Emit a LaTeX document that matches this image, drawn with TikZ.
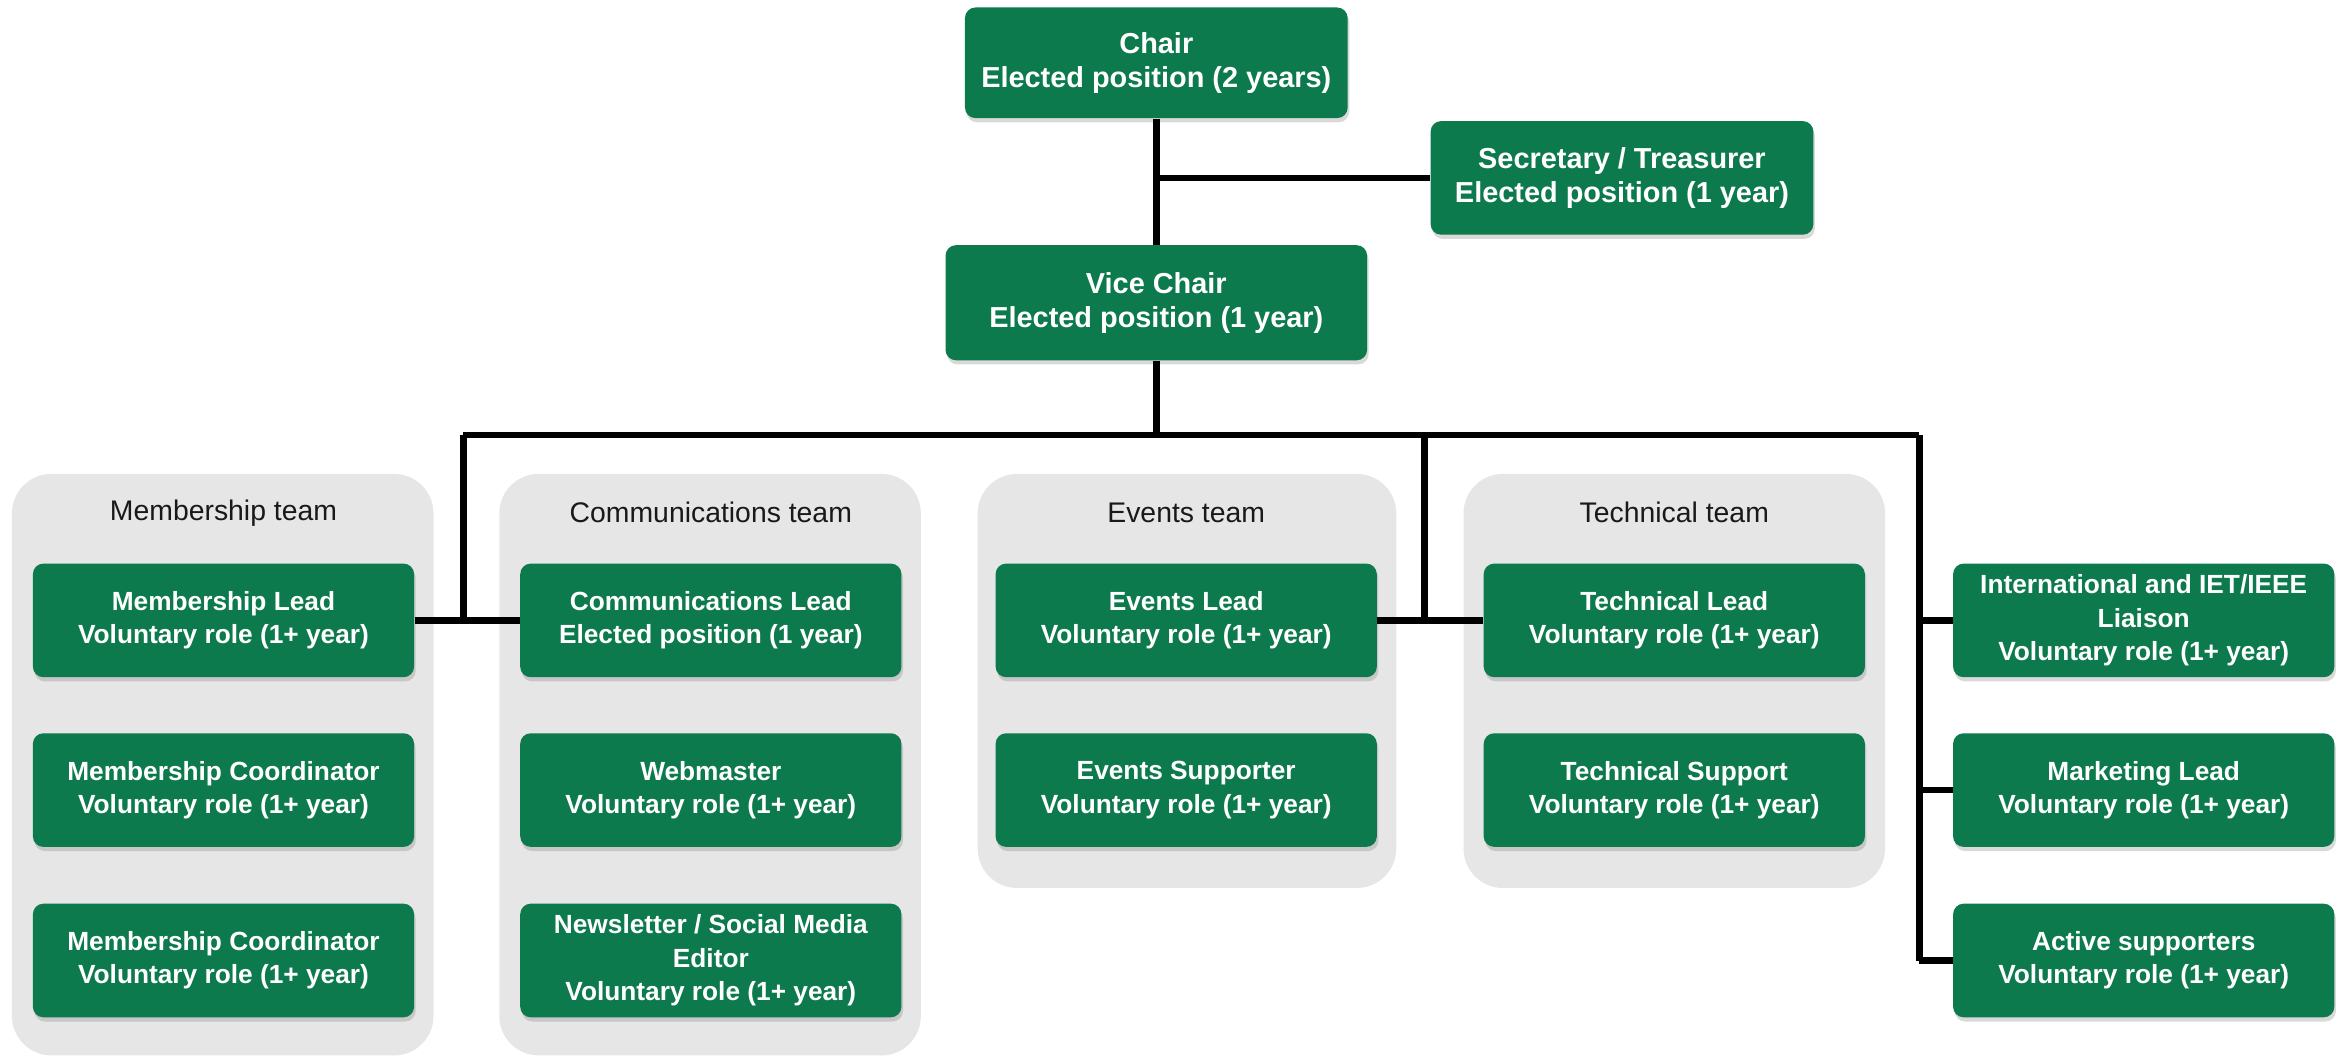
\documentclass[tikz,border=0pt]{standalone}
\usepackage{fontspec}
\setmainfont{Liberation Sans}
\usepackage{tikz}
\usetikzlibrary{positioning}
\usetikzlibrary{shadows}
\definecolor{rolegreen}{RGB}{12,122,76}
\definecolor{teamgrey}{RGB}{230,230,230}
\tikzset{rolebox/.style={rectangle, rounded corners=4pt, fill=rolegreen, text=white, font=\bfseries\fontsize{10}{12.7}\selectfont, align=center, minimum width=5.1cm, minimum height=1.52cm, inner sep=0pt, drop shadow={shadow xshift=0.6pt, shadow yshift=-1.6pt, opacity=0.3}}}
\tikzset{topbox/.style={rolebox, font=\bfseries\fontsize{11}{13}\selectfont}}
\tikzset{teampanel/.style={fill=teamgrey, rounded corners=15pt}}
\tikzset{teamlabel/.style={font=\fontsize{10.8}{13}\selectfont, text=black!90}}
\tikzset{link/.style={line width=2.5pt}}

\begin{document}
\begin{tikzpicture}
    \useasboundingbox (0,0) rectangle (31.36,-14.16);

    % team backgrounds
    \fill[teampanel] (0.16,-6.34) rectangle (5.80,-14.12);
    \fill[teampanel] (6.68,-6.34) rectangle (12.32,-14.12);
    \fill[teampanel] (13.08,-6.34) rectangle (18.68,-11.88);
    \fill[teampanel] (19.58,-6.34) rectangle (25.22,-11.88);

    \node [teamlabel](memteam) at (2.99,-6.86) {Membership team};
    \node [teamlabel](commteam) at (9.51,-6.86) {Communications team};
    \node [teamlabel](eventsteam) at (15.87,-6.86) {Events team};
    \node [teamlabel](techteam) at (22.40,-6.86) {Technical team};

    % officers
    \node [topbox, minimum width=5.12cm, minimum height=1.48cm](chair) at (15.47,-0.84){Chair\\Elected position (2 years)};
    \node [topbox, minimum width=5.12cm](secr) at (21.70,-2.38){Secretary / Treasurer\\Elected position (1 year)};
    \node [topbox, minimum width=5.64cm, minimum height=1.54cm](vice) at (15.47,-4.05){Vice Chair\\Elected position (1 year)};

    % teams
    \node [rolebox](memlead) at (2.99,-8.30){Membership Lead\\Voluntary role (1+ year)};
    \node [rolebox](memcoordA) at (2.99,-10.57){Membership Coordinator\\Voluntary role (1+ year)};
    \node [rolebox](memcoordB) at (2.99,-12.85){Membership Coordinator\\Voluntary role (1+ year)};
    \node [rolebox](commlead) at (9.51,-8.30){Communications Lead\\Elected position (1 year)};
    \node [rolebox](webmaster) at (9.51,-10.57){Webmaster\\Voluntary role (1+ year)};
    \node [rolebox](newsletter) at (9.51,-12.85){Newsletter / Social Media\\Editor\\Voluntary role (1+ year)};
    \node [rolebox](eventslead) at (15.87,-8.30){Events Lead\\Voluntary role (1+ year)};
    \node [rolebox](eventssup) at (15.87,-10.57){Events Supporter\\Voluntary role (1+ year)};
    \node [rolebox](techlead) at (22.40,-8.30){Technical Lead\\Voluntary role (1+ year)};
    \node [rolebox](techsup) at (22.40,-10.57){Technical Support\\Voluntary role (1+ year)};
    \node [rolebox](liaison) at (28.68,-8.30){International and IET/IEEE\\Liaison\\Voluntary role (1+ year)};
    \node [rolebox](marketing) at (28.68,-10.57){Marketing Lead\\Voluntary role (1+ year)};
    \node [rolebox](active) at (28.68,-12.85){Active supporters\\Voluntary role (1+ year)};

    \coordinate (sjoin) at (chair |- secr);
    \coordinate (busL) at (6.20,-5.82);
    \coordinate (busM) at (19.06,-5.82);
    \coordinate (busR) at (25.68,-5.82);
    \coordinate (busV) at (vice |- busL);

    \draw[link] (chair) -- (vice);
    \draw[link] (sjoin) -- (secr);
    \draw[link] (vice) -- (busV);
    \draw[link] (busL) -- (busR);
    \draw[link] (busL) -- (busL |- memlead);
    \draw[link] (memlead) -- (commlead);
    \draw[link] (busM) -- (busM |- eventslead);
    \draw[link] (eventslead) -- (techlead);
    \draw[link] (busR) -- (busR |- active);
    \draw[link] (busR |- liaison) -- (liaison);
    \draw[link] (busR |- marketing) -- (marketing);
    \draw[link] (busR |- active) -- (active);
\end{tikzpicture}
\end{document}
